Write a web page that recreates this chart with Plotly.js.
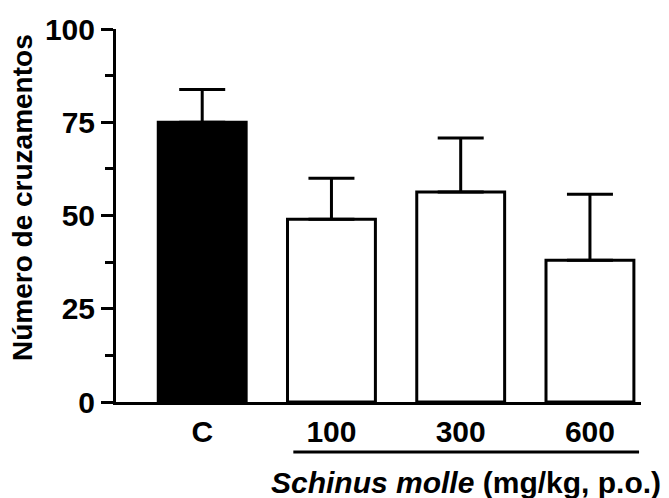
<!DOCTYPE html>
<html>
<head>
<meta charset="utf-8">
<script src="https://cdn.plot.ly/plotly-3.0.1.min.js"></script>
<style>html,body{margin:0;padding:0;background:#fff;}#chart{width:669px;height:498px;}</style>
</head>
<body>
<div id="chart"></div>
<script>
const categories = ["C", "100", "300", "600"];
const means = [75, 49, 56.3, 38];
const sem = [8.8, 11, 14.5, 17.7];
const fillColors = ["#000000", "#ffffff", "#ffffff", "#ffffff"];
const yTicks = [0, 25, 50, 75, 100];

const FONT = "Arial, 'Liberation Sans', sans-serif";
const idx = categories.map((c, i) => i);

const trace = {
  type: "bar",
  x: idx,
  y: means,
  width: 0.68,
  marker: { color: fillColors, line: { color: "#000", width: 3 } },
  error_y: {
    type: "data", symmetric: false, array: sem, arrayminus: sem.map(() => 0),
    color: "#000", thickness: 3, width: 23
  },
  hoverinfo: "none"
};

const layout = {
  width: 669, height: 498,
  margin: { l: 116, r: 28, t: 29, b: 96 },
  paper_bgcolor: "#fff", plot_bgcolor: "#fff",
  showlegend: false,
  font: { family: FONT, color: "#000" },
  xaxis: {
    range: [-0.667, 3.395],
    tickmode: "array", tickvals: idx, ticktext: categories.map(c => "<b>" + c + "</b>"),
    tickfont: { family: FONT, size: 30, color: "#000" },
    ticks: "outside", ticklen: 1, tickcolor: "rgba(0,0,0,0)",
    showline: true, linecolor: "#000", linewidth: 3,
    showgrid: false, zeroline: false, fixedrange: true
  },
  yaxis: {
    range: [0, 100],
    tickmode: "array", tickvals: yTicks, ticktext: yTicks.map(v => "<b>" + v + "</b>"),
    tickfont: { family: FONT, size: 30, color: "#000" },
    ticks: "outside", ticklen: 12, tickwidth: 3, tickcolor: "#000",
    minor: { tickmode: "linear", tick0: 0, dtick: 12.5, ticks: "outside", ticklen: 8, tickwidth: 3, tickcolor: "#000" },
    showline: true, linecolor: "#000", linewidth: 3,
    showgrid: false, zeroline: false, fixedrange: true
  },
  shapes: [{
    type: "line", xref: "x", yref: "paper",
    x0: 0.705, x1: 3.38, y0: -0.134, y1: -0.134,
    line: { color: "#000", width: 3 }
  }],
  annotations: [{
    xref: "paper", yref: "paper", x: 1.042, y: -0.215, xanchor: "right", yanchor: "middle",
    showarrow: false,
    text: "<b><i>Schinus molle</i> (mg/kg, p.o.)</b>",
    font: { family: FONT, size: 30, color: "#000" }
  }, {
    xref: "paper", yref: "paper", x: -0.177, y: 0.547, xanchor: "center", yanchor: "middle",
    textangle: -90, showarrow: false,
    text: "<b>Número de cruzamentos</b>",
    font: { family: FONT, size: 28, color: "#000" }
  }]
};

Plotly.newPlot("chart", [trace], layout, { staticPlot: true, displayModeBar: false });
</script>
</body>
</html>
